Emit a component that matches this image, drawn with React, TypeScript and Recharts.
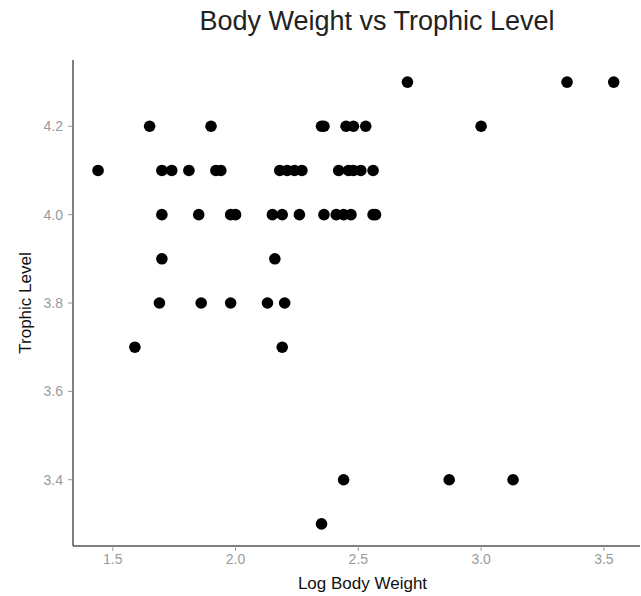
import React from 'react';
import { ScatterChart, Scatter, XAxis, YAxis, Label } from 'recharts';

// log body weight for each fish, grouped by trophic level row
const logWeight = [
  2.70, 3.35, 3.54,
  1.65, 1.90, 2.35, 2.36, 2.45, 2.48, 2.53, 3.00,
  1.44, 1.70, 1.74, 1.81, 1.92, 1.94, 2.18, 2.21, 2.24, 2.27, 2.42, 2.46, 2.48, 2.51, 2.56,
  1.70, 1.85, 1.98, 2.00, 2.15, 2.19, 2.26, 2.36, 2.41, 2.44, 2.47, 2.56, 2.57,
  1.70, 2.16,
  1.69, 1.86, 1.98, 2.13, 2.20,
  1.59, 2.19,
  2.44, 2.87, 3.13,
  2.35,
];

const trophicLevel = [
  4.3, 4.3, 4.3,
  4.2, 4.2, 4.2, 4.2, 4.2, 4.2, 4.2, 4.2,
  4.1, 4.1, 4.1, 4.1, 4.1, 4.1, 4.1, 4.1, 4.1, 4.1, 4.1, 4.1, 4.1, 4.1, 4.1,
  4.0, 4.0, 4.0, 4.0, 4.0, 4.0, 4.0, 4.0, 4.0, 4.0, 4.0, 4.0, 4.0,
  3.9, 3.9,
  3.8, 3.8, 3.8, 3.8, 3.8,
  3.7, 3.7,
  3.4, 3.4, 3.4,
  3.3,
];

const xTicks = [1.5, 2.0, 2.5, 3.0, 3.5];
const yTicks = [3.4, 3.6, 3.8, 4.0, 4.2];

const points = logWeight.map((x, i) => ({ x, y: trophicLevel[i] }));

const font = '"Liberation Sans", Arial, sans-serif';
const tickStyle = { fill: '#9a9a9a', fontSize: 14, fontFamily: font };

const Dot = (props: any) => <circle cx={props.cx} cy={props.cy} r={5.8} fill="#000" />;

export default function App() {
  return (
    <div style={{ position: 'absolute', left: 0, top: 0, width: 641, height: 596, background: '#fff' }}>
      <div
        style={{
          position: 'absolute', left: 0, width: 754, top: 5, textAlign: 'center',
          fontFamily: font, fontSize: 27, color: '#222', lineHeight: '32px',
        }}
      >
        Body Weight vs Trophic Level
      </div>
      <ScatterChart width={641} height={596} margin={{ top: 60, right: 1, bottom: 0, left: 0 }}>
        <XAxis
          type="number"
          dataKey="x"
          domain={[1.338, 3.647]}
          ticks={xTicks}
          tickFormatter={(v: number) => v.toFixed(1)}
          allowDataOverflow
          height={50}
          tick={tickStyle}
          tickSize={5}
          tickMargin={3}
          axisLine={{ stroke: '#555', strokeWidth: 1.5 }}
          tickLine={{ stroke: '#9a9a9a' }}
        >
          <Label
            value="Log Body Weight"
            position="insideBottom"
            offset={7}
            dx={6}
            style={{ fill: '#111', fontSize: 17, fontFamily: font }}
          />
        </XAxis>
        <YAxis
          type="number"
          dataKey="y"
          domain={[3.25, 4.35]}
          ticks={yTicks}
          tickFormatter={(v: number) => v.toFixed(1)}
          allowDataOverflow
          width={73}
          tick={tickStyle}
          tickSize={5}
          tickMargin={5}
          axisLine={{ stroke: '#555', strokeWidth: 1.5 }}
          tickLine={{ stroke: '#9a9a9a' }}
        >
          <Label
            content={({ viewBox }: any) => {
              const cy = viewBox.y + viewBox.height / 2;
              return (
                <text
                  x={31}
                  y={cy}
                  transform={`rotate(-90 31 ${cy})`}
                  textAnchor="middle"
                  fill="#111"
                  fontSize={17}
                  fontFamily={font}
                >
                  Trophic Level
                </text>
              );
            }}
          />
        </YAxis>
        <Scatter data={points} shape={Dot} isAnimationActive={false} />
      </ScatterChart>
    </div>
  );
}
